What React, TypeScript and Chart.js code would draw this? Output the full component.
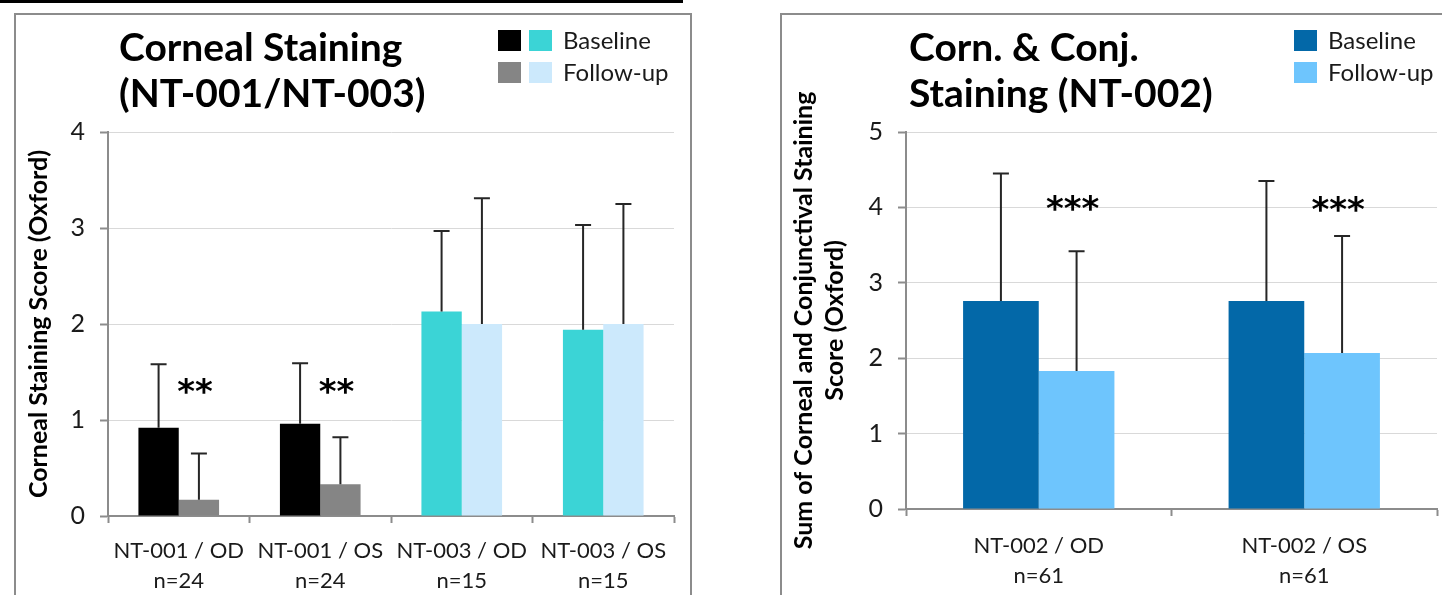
import React, { useEffect, useRef } from "react";
import { Chart, registerables } from "chart.js";

Chart.register(...registerables);

const FONT = "Lato, 'Open Sans', sans-serif";
const SIG_FONT = "'DejaVu Sans', Lato, sans-serif";
const AXIS = "#8c8c8c";
const GRID = "#d9d9d9";
const TEXT = "#1a1a1a";

// ---------- Left panel data ----------
const leftCategories = ["NT-001 / OD", "NT-001 / OS", "NT-003 / OD", "NT-003 / OS"];
const leftN = ["n=24", "n=24", "n=15", "n=15"];
const leftBaseline = [0.92, 0.96, 2.13, 1.94];
const leftBaselineSD = [0.66, 0.63, 0.84, 1.09];
const leftFollowUp = [0.17, 0.33, 2.0, 2.0];
const leftFollowUpSD = [0.48, 0.49, 1.31, 1.25];
const leftBaselineColors = ["#000000", "#000000", "#3bd4d6", "#3bd4d6"];
const leftFollowUpColors = ["#858585", "#858585", "#cce9fc", "#cce9fc"];
const leftSig = ["**", "**", "", ""];
const leftSigY = [1.36, 1.36, 0, 0];
const leftYTicks = [0, 1, 2, 3, 4];

// ---------- Right panel data ----------
const rightCategories = ["NT-002 / OD", "NT-002 / OS"];
const rightN = ["n=61", "n=61"];
const rightBaseline = [2.76, 2.76];
const rightBaselineSD = [1.69, 1.59];
const rightFollowUp = [1.83, 2.07];
const rightFollowUpSD = [1.59, 1.55];
const rightBaselineColors = ["#0368a8", "#0368a8"];
const rightFollowUpColors = ["#6ec5fd", "#6ec5fd"];
const rightSig = ["***", "***"];
const rightSigY = [4.07, 4.05];
const rightYTicks = [0, 1, 2, 3, 4, 5];

const errorBarPlugin = {
  id: "errorBars",
  afterDatasetsDraw(chart: any) {
    const ctx = chart.ctx;
    const ys = chart.scales.y;
    chart.data.datasets.forEach((ds: any, i: number) => {
      const meta = chart.getDatasetMeta(i);
      meta.data.forEach((el: any, j: number) => {
        const v = ds.data[j];
        const sd = ds.errorSD[j];
        const y0 = ys.getPixelForValue(v);
        const y1 = ys.getPixelForValue(v + sd);
        ctx.save();
        ctx.strokeStyle = "#262626";
        ctx.lineWidth = 2;
        ctx.beginPath();
        ctx.moveTo(el.x, y0);
        ctx.lineTo(el.x, y1);
        ctx.moveTo(el.x - 8, y1);
        ctx.lineTo(el.x + 8, y1);
        ctx.stroke();
        ctx.restore();
      });
    });
  },
};

const decorPlugin = {
  id: "decor",
  afterDraw(chart: any, _args: any, opts: any) {
    const ctx = chart.ctx;
    ctx.save();
    // title
    ctx.fillStyle = "#000";
    ctx.font = `bold ${opts.titleSize}px ${FONT}`;
    ctx.textAlign = "left";
    ctx.textBaseline = "alphabetic";
    opts.title.forEach((line: string, i: number) => {
      ctx.fillText(line, opts.titleX, opts.titleY + i * opts.titleGap);
    });
    // legend
    ctx.font = `${opts.legendSize}px ${FONT}`;
    opts.legend.forEach((row: any, i: number) => {
      const top = opts.legendY + i * 32;
      row.colors.forEach((c: string, k: number) => {
        ctx.fillStyle = c;
        ctx.fillRect(opts.legendX + k * 31, top, 23, 21);
      });
      ctx.fillStyle = TEXT;
      ctx.fillText(row.label, opts.legendTextX, top + 19);
    });
    // significance marks
    const ys = chart.scales.y;
    const meta = chart.getDatasetMeta(1);
    ctx.font = `bold ${opts.sigSize}px ${SIG_FONT}`;
    ctx.textAlign = "center";
    ctx.fillStyle = "#000";
    opts.sig.forEach((s: string, j: number) => {
      if (!s) return;
      const el = meta.data[j];
      const y = ys.getPixelForValue(opts.sigY[j]);
      ctx.fillText(s, el.x - 4, y + opts.sigSize * 0.52);
    });
    ctx.restore();
  },
};

function makeConfig(p: any) {
  return {
    type: "bar",
    data: {
      labels: p.categories.map((c: string, i: number) => [c, p.n[i]]),
      datasets: [
        {
          label: "Baseline",
          data: p.baseline,
          errorSD: p.baselineSD,
          backgroundColor: p.baselineColors,
          borderWidth: 0,
          categoryPercentage: 0.57,
          barPercentage: 1,
        },
        {
          label: "Follow-up",
          data: p.followUp,
          errorSD: p.followUpSD,
          backgroundColor: p.followUpColors,
          borderWidth: 0,
          categoryPercentage: 0.57,
          barPercentage: 1,
        },
      ],
    },
    options: {
      responsive: false,
      animation: false,
      devicePixelRatio: 1,
      layout: { padding: { left: 0, top: 117, right: p.padRight, bottom: 0 } },
      plugins: {
        legend: { display: false },
        title: { display: false },
        tooltip: { enabled: false },
        decor: p.decor,
      },
      scales: {
        x: {
          grid: {
            offset: true,
            drawOnChartArea: false,
            drawTicks: true,
            tickLength: 7,
            tickColor: AXIS,
            tickWidth: 2,
          },
          border: { color: AXIS, width: 2 },
          ticks: {
            font: { family: FONT, size: 22, lineHeight: 1.36 },
            color: TEXT,
            padding: p.xPad,
            maxRotation: 0,
            autoSkip: false,
          },
          afterFit: (s: any) => {
            s.height = p.xHeight;
          },
        },
        y: {
          min: 0,
          max: p.yTicks[p.yTicks.length - 1],
          afterBuildTicks: (s: any) => {
            s.ticks = p.yTicks.map((v: number) => ({ value: v }));
          },
          ticks: {
            font: { family: FONT, size: 25 },
            color: TEXT,
            padding: 15,
          },
          grid: {
            color: GRID,
            lineWidth: 1,
            tickColor: AXIS,
            tickLength: 8,
            tickWidth: 2,
          },
          border: { color: AXIS, width: 2 },
          title: {
            display: true,
            text: p.yTitle,
            color: "#000",
            font: { family: FONT, size: 25, weight: "bold", lineHeight: p.yTitleLH },
            padding: { top: p.yTitlePad, bottom: 0 },
          },
          afterFit: (s: any) => {
            s.width = p.yWidth;
          },
        },
      },
    },
    plugins: [errorBarPlugin, decorPlugin],
  } as any;
}

const leftSpec = {
  categories: leftCategories,
  n: leftN,
  baseline: leftBaseline,
  baselineSD: leftBaselineSD,
  followUp: leftFollowUp,
  followUpSD: leftFollowUpSD,
  baselineColors: leftBaselineColors,
  followUpColors: leftFollowUpColors,
  yTicks: leftYTicks,
  yTitle: "Corneal Staining Score (Oxford)",
  yTitleLH: 1.2,
  yTitlePad: 8,
  yWidth: 92,
  xHeight: 79,
  xPad: 13,
  padRight: 16,
  decor: {
    title: ["Corneal Staining", "(NT-001/NT-003)"],
    titleX: 103,
    titleY: 46,
    titleGap: 46,
    titleSize: 39,
    legend: [
      { colors: [leftBaselineColors[0], leftBaselineColors[2]], label: "Baseline" },
      { colors: [leftFollowUpColors[0], leftFollowUpColors[2]], label: "Follow-up" },
    ],
    legendX: 482,
    legendY: 15,
    legendTextX: 547,
    legendSize: 24,
    sig: leftSig,
    sigY: leftSigY,
    sigSize: 34,
  },
};

const rightSpec = {
  categories: rightCategories,
  n: rightN,
  baseline: rightBaseline,
  baselineSD: rightBaselineSD,
  followUp: rightFollowUp,
  followUpSD: rightFollowUpSD,
  baselineColors: rightBaselineColors,
  followUpColors: rightFollowUpColors,
  yTicks: rightYTicks,
  yTitle: ["Sum of Corneal and Conjunctival Staining", "Score (Oxford)"],
  yTitleLH: 1.24,
  yTitlePad: 6,
  yWidth: 124,
  xHeight: 86,
  xPad: 15,
  padRight: 5,
  decor: {
    title: ["Corn. & Conj.", "Staining (NT-002)"],
    titleX: 127,
    titleY: 46,
    titleGap: 46,
    titleSize: 39,
    legend: [
      { colors: [rightBaselineColors[0]], label: "Baseline" },
      { colors: [rightFollowUpColors[0]], label: "Follow-up" },
    ],
    legendX: 512,
    legendY: 15,
    legendTextX: 546,
    legendSize: 24,
    sig: rightSig,
    sigY: rightSigY,
    sigSize: 34,
  },
};

function Panel({ spec, left, width, canvasW }: any) {
  const ref = useRef<HTMLCanvasElement>(null);
  useEffect(() => {
    const chart = new Chart(ref.current as HTMLCanvasElement, makeConfig(spec));
    return () => chart.destroy();
  }, []);
  return (
    <div
      style={{
        position: "absolute",
        left,
        top: 13,
        width,
        height: 620,
        boxSizing: "border-box",
        border: `2px solid ${AXIS}`,
        background: "#fff",
      }}
    >
      <canvas
        ref={ref}
        width={canvasW}
        height={580}
        style={{ display: "block", width: canvasW, height: 580 }}
      />
    </div>
  );
}

export default function App() {
  return (
    <div
      style={{
        position: "fixed",
        left: 0,
        top: 0,
        width: 1442,
        height: 595,
        overflow: "hidden",
        background: "#fff",
      }}
    >
      <div style={{ position: "absolute", left: 0, top: 0, width: 683, height: 3, background: "#000" }} />
      <Panel spec={leftSpec} left={14} width={678} canvasW={674} />
      <Panel spec={rightSpec} left={780} width={700} canvasW={660} />
    </div>
  );
}
